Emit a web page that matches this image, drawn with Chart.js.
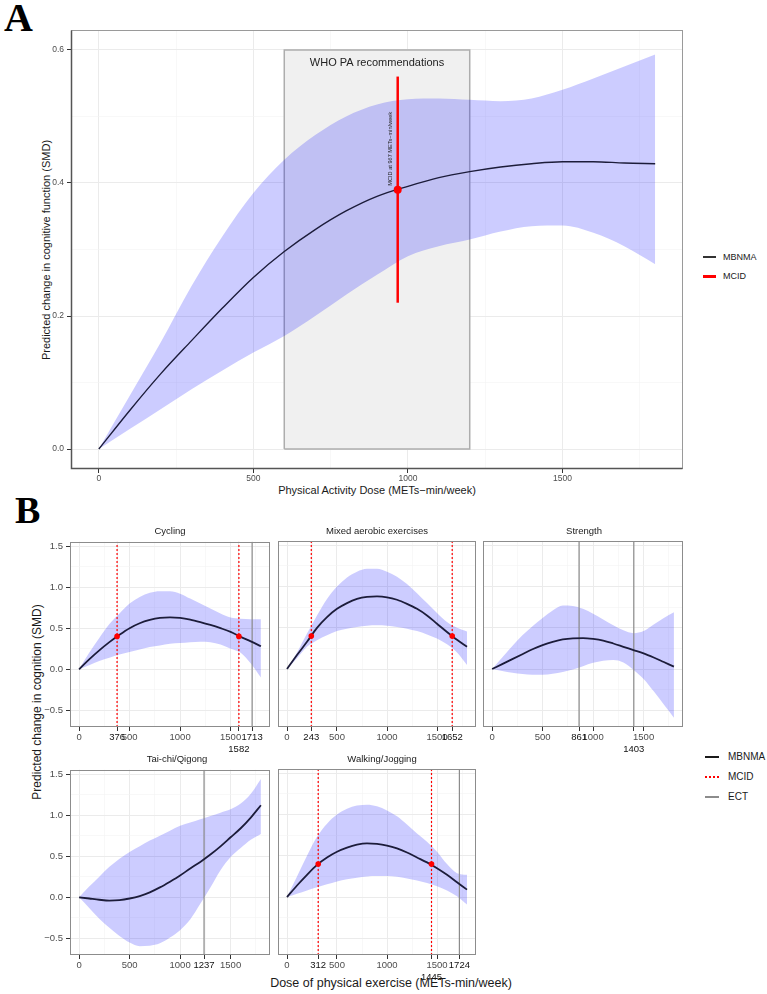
<!DOCTYPE html>
<html>
<head>
<meta charset="utf-8">
<script src="https://cdn.jsdelivr.net/npm/chart.js@4.4.1/dist/chart.umd.min.js"></script>
<style>
body { margin: 0; background: #fff; }
#page { position: relative; width: 767px; height: 994px; overflow: hidden; font-family: "Liberation Sans", Arial, sans-serif; }
#page canvas { position: absolute; }
.txt { position: absolute; white-space: nowrap; line-height: 1; color: #1a1a1a; transform: translate(-50%, -50%); }
.panel-letter { position: absolute; font-family: "Liberation Serif", "Times New Roman", serif; font-weight: bold; line-height: 1; color: #000; }
.key { position: absolute; }
</style>
</head>
<body>
<div id="page">
  <div class="panel-letter" style="left:4px;top:-2px;font-size:40px;">A</div>
  <div class="panel-letter" style="left:15px;top:491px;font-size:38px;">B</div>

  <div class="txt" style="left:46px;top:250px;font-size:11px;transform:translate(-50%,-50%) rotate(-90deg);">Predicted change in cognitive function (SMD)</div>
  <div class="txt" style="left:377px;top:490px;font-size:11px;">Physical Activity Dose (METs−min/week)</div>

  <div class="key" style="left:703px;top:256px;width:13px;height:2px;background:#333;"></div>
  <div class="txt" style="left:723px;top:257px;font-size:9px;transform:translate(0,-50%);">MBNMA</div>
  <div class="key" style="left:703px;top:275px;width:13px;height:2.5px;background:#ff0000;"></div>
  <div class="txt" style="left:723px;top:276px;font-size:9px;transform:translate(0,-50%);">MCID</div>

  <div class="txt" style="left:37px;top:702px;font-size:12px;transform:translate(-50%,-50%) rotate(-90deg);">Predicted change in cognition (SMD)</div>
  <div class="txt" style="left:391px;top:983px;font-size:12.5px;">Dose of physical exercise (METs-min/week)</div>

  <div class="key" style="left:705px;top:756px;width:14px;height:1.5px;background:#1a1a1a;"></div>
  <div class="txt" style="left:728px;top:757px;font-size:10px;transform:translate(0,-50%);">MBNMA</div>
  <div class="key" style="left:705px;top:776px;width:14px;height:1.5px;background:repeating-linear-gradient(90deg,#ff0000 0 2px,rgba(255,255,255,0) 2px 4px);"></div>
  <div class="txt" style="left:728px;top:777px;font-size:10px;transform:translate(0,-50%);">MCID</div>
  <div class="key" style="left:705px;top:796px;width:14px;height:1.5px;background:#8c8c8c;"></div>
  <div class="txt" style="left:728px;top:797px;font-size:10px;transform:translate(0,-50%);">ECT</div>
</div>

<script>
// dose grid shared by every curve (METs-min/week)
const dose = [0, 100, 200, 300, 400, 500, 600, 700, 800, 900, 1000, 1100, 1200, 1300, 1400, 1500, 1600, 1700, 1800];

// panel A: overall MBNMA curve
const aMean  = [0, 0.058, 0.113, 0.163, 0.212, 0.258, 0.297, 0.33, 0.358, 0.38, 0.395, 0.408, 0.417, 0.424, 0.429, 0.432, 0.432, 0.43, 0.429];
const aUpper = [0, 0.08, 0.16, 0.245, 0.32, 0.385, 0.435, 0.472, 0.5, 0.518, 0.526, 0.527, 0.525, 0.523, 0.527, 0.54, 0.557, 0.575, 0.593];
const aLower = [0, 0.03, 0.06, 0.09, 0.118, 0.145, 0.17, 0.2, 0.232, 0.262, 0.29, 0.305, 0.315, 0.327, 0.335, 0.336, 0.325, 0.305, 0.278];
const whoRange = [600, 1200];
const whoTop = 0.6;
const mcidDoseA = 967;
const mcidValueA = 0.39;
const mcidSpanA = [0.22, 0.56];
const aTicksX = [0, 500, 1000, 1500];
const aMinorX = [250, 750, 1250, 1750];
const aTicksY = [0, 0.2, 0.4, 0.6];
const aMinorY = [0.1, 0.3, 0.5];

// panel B: one curve per exercise type
const cycMean  = [0, 0.12, 0.23, 0.33, 0.42, 0.5, 0.56, 0.6, 0.625, 0.632, 0.625, 0.605, 0.575, 0.54, 0.5, 0.455, 0.395, 0.34, 0.28];
const cycUpper = [0, 0.2, 0.38, 0.55, 0.68, 0.8, 0.88, 0.93, 0.95, 0.95, 0.92, 0.86, 0.8, 0.74, 0.68, 0.63, 0.615, 0.61, 0.61];
const cycLower = [0, 0.05, 0.1, 0.14, 0.18, 0.21, 0.24, 0.27, 0.29, 0.31, 0.32, 0.33, 0.335, 0.33, 0.3, 0.25, 0.2, 0.07, -0.1];

const mixMean  = [0, 0.17, 0.33, 0.5, 0.63, 0.73, 0.8, 0.85, 0.875, 0.88, 0.87, 0.84, 0.79, 0.73, 0.65, 0.55, 0.45, 0.355, 0.27];
const mixUpper = [0, 0.2, 0.43, 0.65, 0.85, 1.0, 1.11, 1.18, 1.215, 1.215, 1.18, 1.12, 1.03, 0.92, 0.8, 0.68, 0.57, 0.5, 0.455];
const mixLower = [0, 0.13, 0.27, 0.35, 0.41, 0.46, 0.49, 0.51, 0.525, 0.53, 0.525, 0.51, 0.49, 0.46, 0.42, 0.37, 0.3, 0.2, 0.05];

const strMean  = [0, 0.06, 0.12, 0.18, 0.24, 0.29, 0.33, 0.36, 0.373, 0.375, 0.365, 0.345, 0.31, 0.27, 0.23, 0.19, 0.14, 0.085, 0.03];
const strUpper = [0, 0.14, 0.28, 0.41, 0.52, 0.62, 0.71, 0.77, 0.765, 0.73, 0.67, 0.6, 0.53, 0.47, 0.435, 0.46, 0.54, 0.62, 0.69];
const strLower = [0, -0.025, -0.045, -0.06, -0.068, -0.07, -0.058, -0.035, -0.005, 0.035, 0.075, 0.1, 0.11, 0.08, -0.01, -0.12, -0.27, -0.43, -0.59];

const taiMean  = [0, -0.015, -0.03, -0.04, -0.035, -0.015, 0.015, 0.06, 0.12, 0.19, 0.265, 0.35, 0.43, 0.52, 0.62, 0.73, 0.84, 0.97, 1.12];
const taiUpper = [0, 0.13, 0.25, 0.37, 0.47, 0.55, 0.62, 0.69, 0.75, 0.81, 0.87, 0.91, 0.95, 0.99, 1.03, 1.07, 1.14, 1.26, 1.44];
const taiLower = [0, -0.13, -0.26, -0.37, -0.47, -0.55, -0.595, -0.59, -0.56, -0.49, -0.4, -0.27, -0.08, 0.12, 0.33, 0.49, 0.6, 0.7, 0.77];

const walkMean  = [0, 0.14, 0.27, 0.39, 0.48, 0.55, 0.6, 0.635, 0.65, 0.645, 0.625, 0.59, 0.54, 0.48, 0.42, 0.35, 0.27, 0.18, 0.09];
const walkUpper = [0, 0.25, 0.5, 0.73, 0.89, 1.0, 1.07, 1.11, 1.12, 1.1, 1.05, 0.98, 0.88, 0.77, 0.67, 0.55, 0.4, 0.29, 0.27];
const walkLower = [0, 0.04, 0.08, 0.12, 0.155, 0.19, 0.215, 0.235, 0.25, 0.255, 0.255, 0.245, 0.225, 0.2, 0.17, 0.13, 0.08, 0.01, -0.09];

const facetNames = ['Cycling', 'Mixed aerobic exercises', 'Strength', 'Tai-chi/Qigong', 'Walking/Jogging'];
const mcidDoses = [[376, 1582], [243, 1652], [], [], [312, 1445]];
const ectDoses = [[1713], [], [861, 1403], [1237], [1724]];
const mcidValue = 0.4;
const bTicksX = [0, 500, 1000, 1500];
const bMinorX = [250, 750, 1250, 1750];
const bTicksY = [-0.5, 0, 0.5, 1, 1.5];
const bMinorY = [-0.25, 0.25, 0.75, 1.25];

const xLimits = [-90, 1890];
const aLimitsY = [-0.03, 0.63];
const bLimitsY = [-0.7025, 1.5525];

const BAND = 'rgba(0, 0, 255, 0.2)';
const LINE = '#1c1c3a';
const GRID = '#ebebeb';
const TICK_TXT = '#4d4d4d';

const page = document.getElementById('page');

function addCanvas(left, top, w, h) {
    const c = document.createElement('canvas');
    c.width = w;
    c.height = h;
    c.style.left = left + 'px';
    c.style.top = top + 'px';
    c.style.width = w + 'px';
    c.style.height = h + 'px';
    page.appendChild(c);
    return c;
}

function addText(text, x, y, size) {
    const d = document.createElement('div');
    d.className = 'txt';
    d.style.left = x + 'px';
    d.style.top = y + 'px';
    d.style.fontSize = size + 'px';
    d.textContent = text;
    page.appendChild(d);
}

const pts = (ys) => dose.map((d, i) => ({ x: d, y: ys[i] }));

// vertical reference lines, one path broken by null points
function vlines(xs, lo, hi) {
    const out = [];
    xs.forEach(x => { out.push({ x: x, y: lo }, { x: x, y: hi }, { x: x, y: null }); });
    return out;
}

// ggplot style panel border
const frame = {
    id: 'frame',
    afterDatasetsDraw(chart, args, opts) {
        const { ctx, chartArea: a } = chart;
        const l = Math.round(a.left) + 0.5, t = Math.round(a.top) + 0.5;
        const r = Math.round(a.right) - 0.5, b = Math.round(a.bottom) - 0.5;
        ctx.save();
        ctx.strokeStyle = opts.color || '#8c8c8c';
        ctx.lineWidth = 1;
        ctx.strokeRect(l, t, r - l, b - t);
        if (opts.axisColor) {
            ctx.strokeStyle = opts.axisColor;
            ctx.lineWidth = 1.5;
            ctx.beginPath();
            ctx.moveTo(l, t);
            ctx.lineTo(l, b);
            ctx.lineTo(r, b);
            ctx.stroke();
        }
        ctx.restore();
    }
};

// annotation texts of panel A
const aNotes = {
    id: 'aNotes',
    afterDatasetsDraw(chart) {
        const { ctx, scales: { x, y } } = chart;
        ctx.save();
        ctx.fillStyle = '#222';
        ctx.font = '11px "Liberation Sans", Arial, sans-serif';
        ctx.textAlign = 'center';
        ctx.textBaseline = 'middle';
        ctx.fillText('WHO PA recommendations', x.getPixelForValue((whoRange[0] + whoRange[1]) / 2), y.getPixelForValue(0.58));
        ctx.translate(x.getPixelForValue(mcidDoseA) - 7, y.getPixelForValue(mcidValueA + 0.006));
        ctx.rotate(-Math.PI / 2);
        ctx.font = '5.6px "Liberation Sans", Arial, sans-serif';
        ctx.textAlign = 'left';
        ctx.fillText('MCID at ' + mcidDoseA + ' METs\u2212min/week', 0, 0);
        ctx.restore();
    }
};

function axisX(majors, minors, extra, low, fontSize) {
    const all = majors.concat(minors, extra);
    return {
        type: 'linear',
        min: xLimits[0],
        max: xLimits[1],
        afterBuildTicks: s => { s.ticks = all.map(v => ({ value: v })); },
        afterFit: s => { s.height = 30; },
        border: { display: false },
        grid: {
            color: c => minors.includes(c.tick.value) ? '#f3f3f3' : GRID,
            lineWidth: c => minors.includes(c.tick.value) ? 0.6 : 1,
            tickColor: c => minors.includes(c.tick.value) ? 'rgba(0,0,0,0)' : '#333',
            tickLength: 4
        },
        ticks: {
            autoSkip: false,
            maxRotation: 0,
            minRotation: 0,
            padding: 1,
            font: { size: fontSize, family: '"Liberation Sans", Arial, sans-serif' },
            color: c => extra.includes(c.tick.value) ? '#111' : TICK_TXT,
            callback: v => {
                if (minors.includes(v)) return '';
                return low.includes(v) ? ['', String(v)] : String(v);
            }
        }
    };
}

function axisY(limits, majors, minors, showLabels, width, fontSize) {
    const all = majors.concat(minors);
    return {
        type: 'linear',
        min: limits[0],
        max: limits[1],
        afterBuildTicks: s => { s.ticks = all.map(v => ({ value: v })); },
        afterFit: s => { s.width = width; },
        border: { display: false },
        grid: {
            color: c => minors.includes(c.tick.value) ? '#f3f3f3' : GRID,
            lineWidth: c => minors.includes(c.tick.value) ? 0.6 : 1,
            tickColor: c => minors.includes(c.tick.value) ? 'rgba(0,0,0,0)' : '#333',
            tickLength: 4,
            drawTicks: showLabels
        },
        ticks: {
            display: showLabels,
            padding: 3,
            font: { size: fontSize, family: '"Liberation Sans", Arial, sans-serif' },
            color: TICK_TXT,
            callback: v => {
                if (minors.includes(v)) return '';
                return v < 0 ? '\u2212' + Math.abs(v).toFixed(1) : v.toFixed(1);
            }
        }
    };
}

const baseOpts = (padTop, padRight) => ({
    responsive: false,
    animation: false,
    devicePixelRatio: 1,
    layout: { padding: { top: padTop, right: padRight, left: 0, bottom: 0 } },
    elements: { point: { radius: 0 } },
    plugins: { legend: { display: false }, tooltip: { enabled: false } }
});

// ---------- panel A ----------
(function drawA() {
    const plot = { left: 71, top: 30, width: 612, height: 439 };
    const yw = 44, pad = 10, xh = 30;
    const canvas = addCanvas(plot.left - yw, plot.top - pad, yw + plot.width + pad, pad + plot.height + xh);
    const opts = baseOpts(pad, pad);
    opts.scales = {
        x: axisX(aTicksX, aMinorX, [], [], 8.5),
        y: axisY(aLimitsY, aTicksY, aMinorY, true, yw, 8.5)
    };
    opts.plugins.frame = { color: '#9a9a9a', axisColor: '#555' };
    new Chart(canvas, {
        type: 'line',
        data: {
            datasets: [
                { data: [{ x: whoRange[0], y: whoTop }, { x: whoRange[1], y: whoTop }], fill: 'origin',
                  backgroundColor: '#f0f0f0', borderWidth: 0, order: 10 },
                { data: [{ x: whoRange[0], y: 0 }, { x: whoRange[0], y: whoTop }, { x: whoRange[1], y: whoTop },
                         { x: whoRange[1], y: 0 }, { x: whoRange[0], y: 0 }],
                  borderColor: '#adadad', borderWidth: 1.5, fill: false, order: 9 },
                { data: pts(aUpper), fill: '+1', backgroundColor: BAND, borderWidth: 0,
                  cubicInterpolationMode: 'monotone', order: 8 },
                { data: pts(aLower), fill: false, borderWidth: 0, cubicInterpolationMode: 'monotone', order: 7 },
                { data: pts(aMean), borderColor: LINE, borderWidth: 1.4, fill: false,
                  cubicInterpolationMode: 'monotone', order: 3 },
                { data: [{ x: mcidDoseA, y: mcidSpanA[0] }, { x: mcidDoseA, y: mcidSpanA[1] }],
                  borderColor: '#ff0000', borderWidth: 2.5, fill: false, order: 2 },
                { data: [{ x: mcidDoseA, y: mcidValueA }], showLine: false, pointRadius: 4,
                  pointBackgroundColor: '#ff0000', pointBorderWidth: 0, order: 1 }
            ]
        },
        options: opts,
        plugins: [frame, aNotes]
    });
})();

// ---------- panel B ----------
const facetMeans = [cycMean, mixMean, strMean, taiMean, walkMean];
const facetUppers = [cycUpper, mixUpper, strUpper, taiUpper, walkUpper];
const facetLowers = [cycLower, mixLower, strLower, taiLower, walkLower];
const lowLabels = [[1582], [], [1403], [], [1445]];
const colLeft = [70, 276, 483];
const rowTop = [541, 769];
const stripCenter = [170, 377, 584, 177, 382];

facetNames.forEach((name, k) => {
    const col = k % 3, row = Math.floor(k / 3);
    const plot = { left: colLeft[col], top: rowTop[row], width: 200, height: 186 };
    const yw = col === 0 ? 44 : 2;
    const pad = 8, xh = 30;
    const canvas = addCanvas(plot.left - yw, plot.top - pad, yw + plot.width + pad, pad + plot.height + xh);
    addText(name, stripCenter[k], plot.top - 10, 9.5);

    const extra = mcidDoses[k].concat(ectDoses[k]);
    const opts = baseOpts(pad, pad);
    opts.scales = {
        x: axisX(bTicksX, bMinorX, extra, lowLabels[k], 9.5),
        y: axisY(bLimitsY, bTicksY, bMinorY, col === 0, yw, 9.5)
    };
    opts.plugins.frame = { color: '#8c8c8c' };

    new Chart(canvas, {
        type: 'line',
        data: {
            datasets: [
                { data: pts(facetUppers[k]), fill: '+1', backgroundColor: BAND, borderWidth: 0,
                  cubicInterpolationMode: 'monotone', order: 8 },
                { data: pts(facetLowers[k]), fill: false, borderWidth: 0, cubicInterpolationMode: 'monotone', order: 7 },
                { data: vlines(ectDoses[k], bLimitsY[0], bLimitsY[1]), borderColor: '#8c8c8c', borderWidth: 1.2,
                  fill: false, spanGaps: false, order: 5 },
                { data: vlines(mcidDoses[k], bLimitsY[0], bLimitsY[1]), borderColor: '#ff0000', borderWidth: 1.2,
                  borderDash: [2, 2], fill: false, spanGaps: false, order: 4 },
                { data: pts(facetMeans[k]), borderColor: LINE, borderWidth: 1.8, fill: false,
                  cubicInterpolationMode: 'monotone', order: 3 },
                { data: mcidDoses[k].map(d => ({ x: d, y: mcidValue })), showLine: false, pointRadius: 2.8,
                  pointBackgroundColor: '#ff0000', pointBorderWidth: 0, order: 1 }
            ]
        },
        options: opts,
        plugins: [frame]
    });
});
</script>
</body>
</html>
